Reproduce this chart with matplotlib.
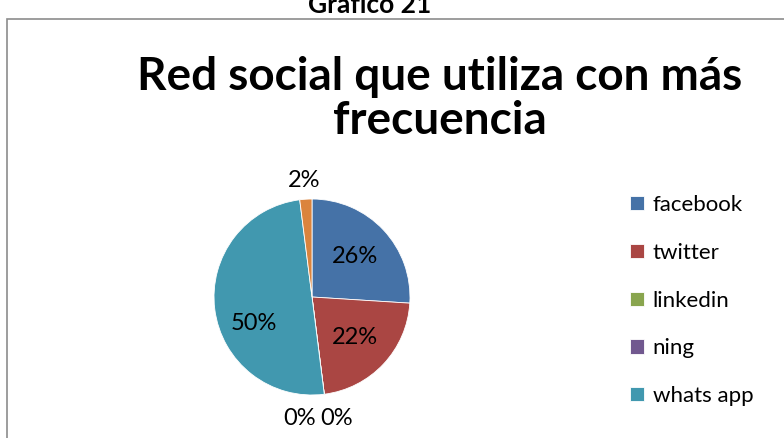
import matplotlib.pyplot as plt
import numpy as np
from matplotlib.patches import Rectangle

labels = ['facebook', 'twitter', 'linkedin', 'ning', 'whats app', 'otros']
values = [26, 22, 0, 0, 50, 2]
colors = ['#4572A7', '#AA4643', '#89A54E', '#71588F', '#4198AF', '#DB843D']

W, H = 784, 438
fig = plt.figure(figsize=(W / 100, H / 100), dpi=100)
plt.rcParams['font.family'] = ['Lato', 'DejaVu Sans']

# chart frame (cut off at right/bottom)
fig.patches.append(Rectangle((7 / W, -0.05), 1.0, 1 - 19 / H + 0.05,
                             transform=fig.transFigure, fill=False,
                             edgecolor='#8c8c8c', lw=1.2))
fig.text(370 / W, 1 - 13 / H, 'Gráfico 21', ha='center', va='baseline',
         fontsize=19, fontweight='bold')
fig.text(440 / W, 1 - 99 / H, 'Red social que utiliza con más\nfrecuencia',
         ha='center', va='center', fontsize=33, fontweight='bold',
         linespacing=1.05)

cx, cy, r = 312, 297, 98
ax = fig.add_axes([(cx - r) / W, (H - cy - r) / H, 2 * r / W, 2 * r / H])
wedges, _ = ax.pie(values, colors=colors, startangle=90, counterclock=False,
                   radius=1.0, wedgeprops=dict(edgecolor='white', linewidth=0.6))
ax.set_xlim(-1, 1)
ax.set_ylim(-1, 1)
ax.set_aspect('equal')
ax.axis('off')

# data labels
total = sum(values)
zero_shift = -1
for w, v in zip(wedges, values):
    mid = np.deg2rad((w.theta1 + w.theta2) / 2)
    txt = f'{round(100 * v / total)}%'
    if v / total >= 0.1:
        d = 0.6
        x, y = d * np.cos(mid), d * np.sin(mid)
        if v / total >= 0.4:
            y -= 0.2
    elif v == 0:
        d = 1.22
        x, y = d * np.cos(mid) - 0.09 + zero_shift * 0.19, d * np.sin(mid) - 0.03
        zero_shift += 2
    else:
        d = 1.22
        x, y = d * np.cos(mid), d * np.sin(mid) - 0.03
    ax.text(x, y, txt, ha='center', va='center', fontsize=17, clip_on=False)

handles = wedges[:5]
fig.legend(handles, labels[:5], loc='upper left',
           bbox_to_anchor=(610 / W, 1 - 175 / H), frameon=False,
           fontsize=16, handlelength=0.62, handleheight=0.62,
           handletextpad=0.4, labelspacing=1.25)

fig.savefig('out.png', dpi=100)
